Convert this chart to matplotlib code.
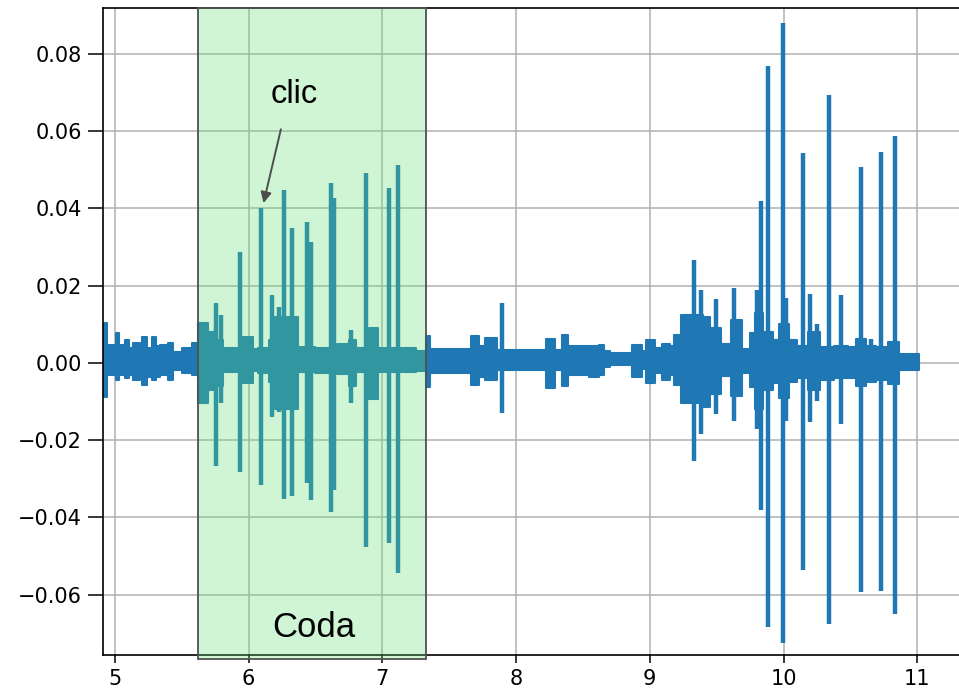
import matplotlib
matplotlib.use("Agg")
import matplotlib.pyplot as plt
from matplotlib.patches import Rectangle
import numpy as np

# ---- data ----
# background envelope: time where a level starts, upper / lower level (held until next time)
env_t = [4.918, 4.945, 5.010, 5.035, 5.075, 5.105, 5.140, 5.185, 5.205, 5.240,
         5.275, 5.310, 5.340, 5.400, 5.435, 5.500, 5.580, 5.625, 5.700, 5.740,
         5.810, 5.960, 6.030, 6.070, 6.150, 6.200, 6.370, 6.500, 6.660, 6.750,
         6.800, 6.900, 6.970, 7.140, 7.250, 7.330, 7.360, 7.665, 7.725, 7.770,
         7.855, 8.225, 8.290, 8.345, 8.390, 8.545, 8.620, 8.660, 8.700, 8.870,
         8.945, 8.970, 9.040, 9.090, 9.150, 9.180, 9.230, 9.400, 9.450, 9.530,
         9.610, 9.690, 9.750, 9.790, 9.850, 9.920, 9.970, 10.040, 10.100, 10.180,
         10.270, 10.380, 10.480, 10.540, 10.620, 10.690, 10.780, 10.860, 11.010]
env_hi = [0.0104, 0.0047, 0.0078, 0.0047, 0.0060, 0.0040, 0.0052, 0.0035, 0.0068, 0.0040,
          0.0067, 0.0045, 0.0047, 0.0052, 0.0028, 0.0038, 0.0052, 0.0104, 0.0080, 0.0060,
          0.0039, 0.0068, 0.0035, 0.0040, 0.0060, 0.0120, 0.0041, 0.0040, 0.0049, 0.0060,
          0.0040, 0.0091, 0.0039, 0.0039, 0.0030, 0.0070, 0.0036, 0.0070, 0.0045, 0.0065,
          0.0034, 0.0062, 0.0034, 0.0072, 0.0043, 0.0045, 0.0047, 0.0030, 0.0025, 0.0047,
          0.0030, 0.0059, 0.0040, 0.0049, 0.0045, 0.0073, 0.0124, 0.0120, 0.0090, 0.0050,
          0.0110, 0.0035, 0.0078, 0.0130, 0.0080, 0.0060, 0.0100, 0.0060, 0.0045, 0.0080,
          0.0041, 0.0045, 0.0041, 0.0063, 0.0045, 0.0041, 0.0055, 0.0022, 0.0022]
env_lo = [-0.0088, -0.0030, -0.0045, -0.0030, -0.0040, -0.0030, -0.0045, -0.0030, -0.0057, -0.0035,
          -0.0045, -0.0035, -0.0030, -0.0045, -0.0018, -0.0026, -0.0030, -0.0104, -0.0070, -0.0060,
          -0.0023, -0.0052, -0.0020, -0.0025, -0.0050, -0.0120, -0.0023, -0.0025, -0.0029, -0.0060,
          -0.0023, -0.0093, -0.0023, -0.0023, -0.0020, -0.0061, -0.0025, -0.0057, -0.0035, -0.0044,
          -0.0018, -0.0065, -0.0018, -0.0060, -0.0030, -0.0035, -0.0030, -0.0010, -0.0005, -0.0035,
          -0.0015, -0.0052, -0.0025, -0.0043, -0.0030, -0.0057, -0.0104, -0.0113, -0.0080, -0.0033,
          -0.0085, -0.0025, -0.0062, -0.0120, -0.0070, -0.0052, -0.0090, -0.0050, -0.0040, -0.0070,
          -0.0045, -0.0040, -0.0040, -0.0060, -0.0050, -0.0045, -0.0055, -0.0018, -0.0018]

# clicks (spikes): time, peak, trough
spike_t = [5.755, 5.792, 5.937, 6.091, 6.178, 6.228, 6.266, 6.328, 6.440, 6.465,
           6.614, 6.639, 6.769, 6.876, 6.951, 7.050, 7.117, 7.892,
           9.330, 9.380, 9.430, 9.499, 9.629, 9.666, 9.803, 9.828, 9.883, 9.995,
           10.020, 10.149, 10.197, 10.252, 10.339, 10.432, 10.582, 10.651, 10.732, 10.830]
spike_hi = [0.0155, 0.0124, 0.0288, 0.0402, 0.0176, 0.0145, 0.0448, 0.0350, 0.0365, 0.0313,
            0.0466, 0.0426, 0.0085, 0.0492, 0.0090, 0.0453, 0.0513, 0.0155,
            0.0267, 0.0189, 0.0120, 0.0165, 0.0194, 0.0110, 0.0190, 0.0420, 0.0770, 0.0880,
            0.0167, 0.0543, 0.0178, 0.0100, 0.0694, 0.0176, 0.0508, 0.0063, 0.0545, 0.0587]
spike_lo = [-0.0266, -0.0104, -0.0282, -0.0316, -0.0140, -0.0127, -0.0352, -0.0344, -0.0311, -0.0355,
            -0.0385, -0.0330, -0.0104, -0.0476, -0.0095, -0.0466, -0.0544, -0.0130,
            -0.0253, -0.0185, -0.0113, -0.0132, -0.0150, -0.0085, -0.0172, -0.0380, -0.0684, -0.0724,
            -0.0150, -0.0535, -0.0153, -0.0099, -0.0677, -0.0157, -0.0593, -0.0050, -0.0591, -0.0650]

coda_start, coda_end = 5.622, 7.330
xticks = [5, 6, 7, 8, 9, 10, 11]
yticks = [-0.06, -0.04, -0.02, 0.00, 0.02, 0.04, 0.06, 0.08]

# ---- figure ----
W, H = 959, 691
fig = plt.figure(figsize=(W / 100, H / 100), dpi=100)
ax_l, ax_r, ax_t, ax_b = 103, 965, 8, 655
ax = fig.add_axes([ax_l / W, 1 - ax_b / H, (ax_r - ax_l) / W, (ax_b - ax_t) / H])

blue = "#1f77b4"
ax.fill_between(env_t, env_hi, env_lo, step="post", color=blue,
                linewidth=1.5, edgecolor=blue, zorder=2)
ax.vlines(spike_t, spike_lo, spike_hi, colors=blue, linewidth=3.2, zorder=2)

ax.set_xlim(4.912, 11.357)
ax.set_ylim(-0.0756, 0.0919)
ax.set_xticks(xticks)
ax.set_yticks(yticks)
ax.set_xticklabels([str(v) for v in xticks])
ax.set_yticklabels([f"{v:.2f}".replace("-", "\u2212") for v in yticks])
ax.grid(True, color="#b0b0b0", linewidth=1.1)
ax.set_axisbelow(True)
ax.tick_params(labelsize=15, width=1.1)
ax.tick_params(axis="y", length=11, pad=4)
ax.tick_params(axis="x", length=6, pad=4)
for s in ax.spines.values():
    s.set_linewidth(1.2)

# coda box overlay
rect = Rectangle((coda_start, -0.0766), coda_end - coda_start, 0.0919 + 0.0766,
                 facecolor=(0.38, 0.88, 0.45, 0.30), edgecolor="#505050",
                 linewidth=1.3, zorder=5, clip_on=False)
ax.add_patch(rect)

ax.text(6.165, 0.0673, "clic", fontsize=23.5, family="Liberation Sans",
        ha="left", va="baseline", zorder=7)
ax.text(6.175, -0.0709, "Coda", fontsize=25, family="Liberation Sans",
        ha="left", va="baseline", zorder=7)
ax.annotate("", xy=(6.112, 0.0414), xytext=(6.242, 0.0605),
            arrowprops=dict(arrowstyle="-|>", color="#4d4d4d", lw=1.4,
                            mutation_scale=16, shrinkA=0, shrinkB=0),
            zorder=7)

fig.savefig("out.png", dpi=100)
